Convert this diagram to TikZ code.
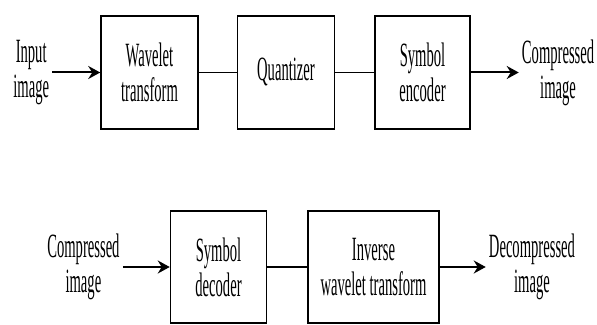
\documentclass[tikz,border=0pt]{standalone}
\usepackage{fontspec}
\setmainfont{Liberation Serif}[FakeStretch=0.43]
\usepackage{tikz}
\usetikzlibrary{positioning, arrows.meta}

\begin{document}
\begin{tikzpicture}[
        x=1pt, y=1pt,
        node distance=38pt,
        every node/.style={font=\fontsize{34}{35}\selectfont, align=center},
        box/.style={rectangle, draw, line width=1.5pt, minimum width=97pt, minimum height=113pt},
        lbl/.style={draw=none, inner sep=3pt},
        arrow/.style={-{Stealth[length=12pt, width=13pt, inset=4pt]}, line width=2pt},
        link/.style={line width=1.6pt}
    ]
    \useasboundingbox (0,0) rectangle (597,324);

    % Compression
    \node[box] (wt) at (149.5, 251.5) {Wavelet\\transform};
    \node[box, right=of wt] (qz) {Quantizer};
    \node[box, minimum width=95pt, right=39pt of qz] (se) {Symbol\\encoder};
    \node[lbl, left=48pt of wt] (in) {Input\\image};
    \node[lbl, right=48pt of se] (co) {Compressed\\image};

    % Decompression
    \node[box, minimum width=96pt, minimum height=112pt] (sd) at (218.5, 57) {Symbol\\decoder};
    \node[box, minimum width=131pt, minimum height=112pt, right=40pt of sd] (iw) {Inverse\\wavelet transform};
    \node[lbl, left=47pt of sd] (ci) {Compressed\\image};
    \node[lbl, right=46pt of iw] (di) {Decompressed\\image};

    % Connections
    \draw[arrow] (in) -- (wt);
    \draw[link] (wt) -- (qz);
    \draw[link] (qz) -- (se);
    \draw[arrow] (se) -- (co);

    \draw[arrow] (ci) -- (sd);
    \draw[link] (sd) -- (iw);
    \draw[arrow] (iw) -- (di);

\end{tikzpicture}
\end{document}
